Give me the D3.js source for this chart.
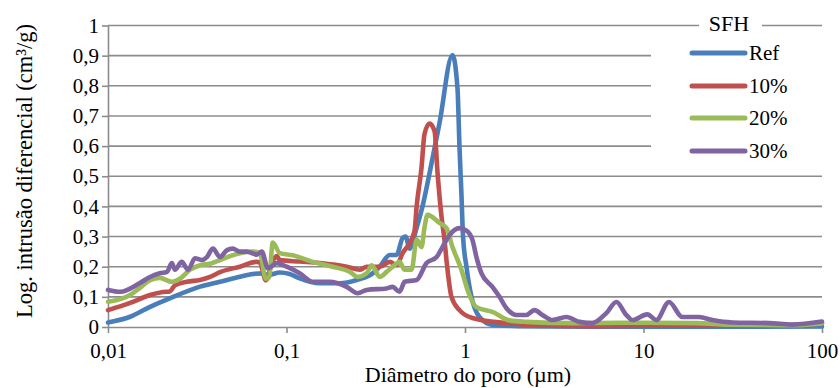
<!DOCTYPE html>
<html>
<head>
<meta charset="utf-8">
<script src="https://cdn.jsdelivr.net/npm/d3@7"></script>
<style>
  html, body { margin: 0; padding: 0; background: #fff; }
  svg { display: block; font-family: "Liberation Serif", "Times New Roman", serif; }
</style>
</head>
<body>
<svg id="chart" width="840" height="388"></svg>
<script>
// Pore diameter (µm) and log differential intrusion (cm³/g) for each mix
const refD = [0.0100, 0.0133, 0.0172, 0.0222, 0.0328, 0.0424, 0.0548, 0.0648, 0.0737, 0.0790, 0.0917, 0.1042, 0.1186, 0.1535, 0.1986, 0.2473, 0.304, 0.333, 0.379, 0.414, 0.447, 0.465, 0.489, 0.536, 0.578, 0.633, 0.720, 0.851, 0.908, 0.931, 0.955, 0.975, 1.019, 1.087, 1.205, 1.425, 2.0, 5.0, 20, 100];
const refV = [0.015, 0.034, 0.067, 0.095, 0.134, 0.150, 0.167, 0.176, 0.178, 0.172, 0.181, 0.176, 0.161, 0.145, 0.145, 0.156, 0.178, 0.200, 0.239, 0.239, 0.295, 0.300, 0.260, 0.330, 0.400, 0.510, 0.677, 0.902, 0.790, 0.600, 0.440, 0.300, 0.200, 0.100, 0.033, 0.007, 0.003, 0.001, 0.001, 0.002];

const p10D = [0.0100, 0.0133, 0.0172, 0.0203, 0.0222, 0.0237, 0.0277, 0.0328, 0.0373, 0.0424, 0.0548, 0.0682, 0.0709, 0.0766, 0.0838, 0.0882, 0.0917, 0.1186, 0.1535, 0.2175, 0.2571, 0.2813, 0.333, 0.379, 0.414, 0.447, 0.489, 0.522, 0.536, 0.571, 0.593, 0.633, 0.675, 0.702, 0.739, 0.767, 0.788, 0.840, 0.931, 1.101, 1.708, 2.611, 5.0, 10, 30, 60, 100];
const p10V = [0.056, 0.080, 0.106, 0.116, 0.118, 0.138, 0.150, 0.156, 0.166, 0.182, 0.200, 0.216, 0.214, 0.155, 0.220, 0.235, 0.222, 0.217, 0.212, 0.200, 0.190, 0.200, 0.200, 0.216, 0.205, 0.245, 0.278, 0.320, 0.400, 0.530, 0.640, 0.675, 0.650, 0.510, 0.365, 0.290, 0.220, 0.100, 0.056, 0.030, 0.013, 0.005, 0.003, 0.004, 0.005, 0.006, 0.012];

const p20D = [0.0100, 0.0133, 0.0151, 0.0172, 0.0195, 0.0228, 0.0253, 0.0288, 0.0328, 0.0373, 0.0424, 0.0482, 0.0548, 0.0648, 0.0709, 0.0766, 0.0800, 0.0838, 0.0917, 0.1083, 0.1402, 0.1815, 0.2259, 0.2506, 0.2813, 0.300, 0.333, 0.364, 0.403, 0.430, 0.459, 0.502, 0.536, 0.571, 0.593, 0.617, 0.720, 0.788, 0.851, 0.955, 1.033, 1.159, 1.425, 1.775, 2.208, 3.994, 7.3, 20, 30, 70, 100];
const p20V = [0.084, 0.106, 0.130, 0.155, 0.163, 0.150, 0.160, 0.190, 0.205, 0.210, 0.222, 0.235, 0.245, 0.250, 0.245, 0.160, 0.165, 0.280, 0.245, 0.238, 0.216, 0.200, 0.183, 0.166, 0.178, 0.205, 0.166, 0.183, 0.205, 0.216, 0.190, 0.190, 0.290, 0.265, 0.330, 0.372, 0.345, 0.328, 0.265, 0.190, 0.123, 0.066, 0.050, 0.022, 0.017, 0.013, 0.014, 0.013, 0.008, 0.006, 0.012];

const p30D = [0.0100, 0.0117, 0.0151, 0.0172, 0.0195, 0.0214, 0.0228, 0.0237, 0.0259, 0.0281, 0.0307, 0.0336, 0.0358, 0.0387, 0.0424, 0.0464, 0.0500, 0.0548, 0.0600, 0.0682, 0.0727, 0.0786, 0.0882, 0.1002, 0.1186, 0.1402, 0.1746, 0.2175, 0.2506, 0.2813, 0.364, 0.393, 0.430, 0.459, 0.536, 0.609, 0.693, 0.748, 0.819, 0.931, 1.019, 1.101, 1.159, 1.237, 1.425, 1.560, 1.708, 1.943, 2.208, 2.447, 2.714, 3.089, 3.700, 4.371, 5.165, 6.19, 7.05, 8.01, 8.65, 10.5, 11.8, 13.9, 16.5, 20.5, 24.3, 31.4, 50.6, 68, 100];
const p30V = [0.123, 0.117, 0.146, 0.166, 0.178, 0.183, 0.212, 0.190, 0.216, 0.190, 0.228, 0.222, 0.232, 0.260, 0.232, 0.255, 0.260, 0.250, 0.250, 0.240, 0.250, 0.195, 0.212, 0.200, 0.178, 0.150, 0.150, 0.133, 0.112, 0.123, 0.128, 0.133, 0.117, 0.150, 0.156, 0.212, 0.232, 0.265, 0.305, 0.328, 0.320, 0.289, 0.232, 0.178, 0.133, 0.100, 0.062, 0.040, 0.040, 0.056, 0.040, 0.023, 0.033, 0.017, 0.013, 0.046, 0.083, 0.040, 0.023, 0.042, 0.023, 0.083, 0.033, 0.033, 0.023, 0.015, 0.013, 0.008, 0.018];

const seriesNames = ["Ref", "10%", "20%", "30%"];
const seriesColors = ["#4a7ebb", "#c0504d", "#9bbb59", "#8064a2"];
const seriesD = [refD, p10D, p20D, p30D];
const seriesV = [refV, p10V, p20V, p30V];

const xTicks = [0.01, 0.1, 1, 10, 100];
const xTickLabels = ["0,01", "0,1", "1", "10", "100"];
const yTicks = [0, 0.1, 0.2, 0.3, 0.4, 0.5, 0.6, 0.7, 0.8, 0.9, 1];
const yTickLabels = ["0", "0,1", "0,2", "0,3", "0,4", "0,5", "0,6", "0,7", "0,8", "0,9", "1"];

const legendTitle = "SFH";
const xTitle = "Diâmetro do poro (µm)";
const yTitle = "Log. intrusão diferencial (cm³/g)";

const svg = d3.select("#chart");
const plot = { left: 108, right: 822, top: 25.5, bottom: 327 };
const gridColor = "#8c8c8c";

const x = d3.scaleLog().domain([0.01, 100]).range([plot.left, plot.right]);
const y = d3.scaleLinear().domain([0, 1]).range([plot.bottom, plot.top]);

// horizontal gridlines
svg.append("g")
  .selectAll("line")
  .data(yTicks.slice(1))
  .join("line")
  .attr("x1", plot.left).attr("x2", plot.right)
  .attr("y1", d => y(d)).attr("y2", d => y(d))
  .attr("stroke", gridColor).attr("stroke-width", 1.6);

// axes
const yAxis = svg.append("g")
  .attr("transform", `translate(${plot.left},0)`)
  .call(d3.axisLeft(y).tickValues(yTicks).tickFormat((d, i) => yTickLabels[i]).tickSize(6).tickSizeOuter(0).tickPadding(3));
const xAxis = svg.append("g")
  .attr("transform", `translate(0,${plot.bottom})`)
  .call(d3.axisBottom(x).tickValues(xTicks).tickFormat((d, i) => xTickLabels[i]).tickSize(6).tickSizeOuter(0).tickPadding(10));

[yAxis, xAxis].forEach(g => {
  g.attr("font-family", null);
  g.select(".domain").attr("stroke", gridColor).attr("stroke-width", 1.6);
  g.selectAll(".tick line").attr("stroke", gridColor).attr("stroke-width", 1.6);
  g.selectAll(".tick text")
    .attr("fill", "#000")
    .style("font-family", '"Liberation Serif", serif')
    .style("font-size", "21px");
});

// series lines
const line = d3.line()
  .x(d => x(d[0]))
  .y(d => y(d[1]))
  .curve(d3.curveMonotoneX);

seriesNames.forEach((name, i) => {
  const pts = d3.zip(seriesD[i], seriesV[i]);
  svg.append("path")
    .datum(pts)
    .attr("fill", "none")
    .attr("stroke", seriesColors[i])
    .attr("stroke-width", 4.6)
    .attr("stroke-linejoin", "round")
    .attr("stroke-linecap", "round")
    .attr("d", line);
});

// legend panel
svg.append("rect")
  .attr("x", 651).attr("y", 30).attr("width", 173).attr("height", 134)
  .attr("fill", "#fff");
svg.append("rect")
  .attr("x", 699).attr("y", 12).attr("width", 63).attr("height", 22)
  .attr("fill", "#fff");
svg.append("text")
  .attr("x", 729).attr("y", 31)
  .attr("text-anchor", "middle")
  .style("font-size", "22px")
  .text(legendTitle);

const legendRows = [53, 86, 118, 151];
seriesNames.forEach((name, i) => {
  svg.append("line")
    .attr("x1", 692).attr("x2", 745)
    .attr("y1", legendRows[i]).attr("y2", legendRows[i])
    .attr("stroke", seriesColors[i])
    .attr("stroke-width", 5)
    .attr("stroke-linecap", "round");
  svg.append("text")
    .attr("x", 749).attr("y", legendRows[i])
    .attr("dy", "0.35em")
    .style("font-size", "21px")
    .text(name);
});

// axis titles
svg.append("text")
  .attr("x", 468).attr("y", 382)
  .attr("text-anchor", "middle")
  .style("font-size", "22px")
  .text(xTitle);
svg.append("text")
  .attr("transform", "translate(32,171) rotate(-90)")
  .attr("text-anchor", "middle")
  .style("font-size", "22.5px")
  .text(yTitle);
</script>
</body>
</html>
